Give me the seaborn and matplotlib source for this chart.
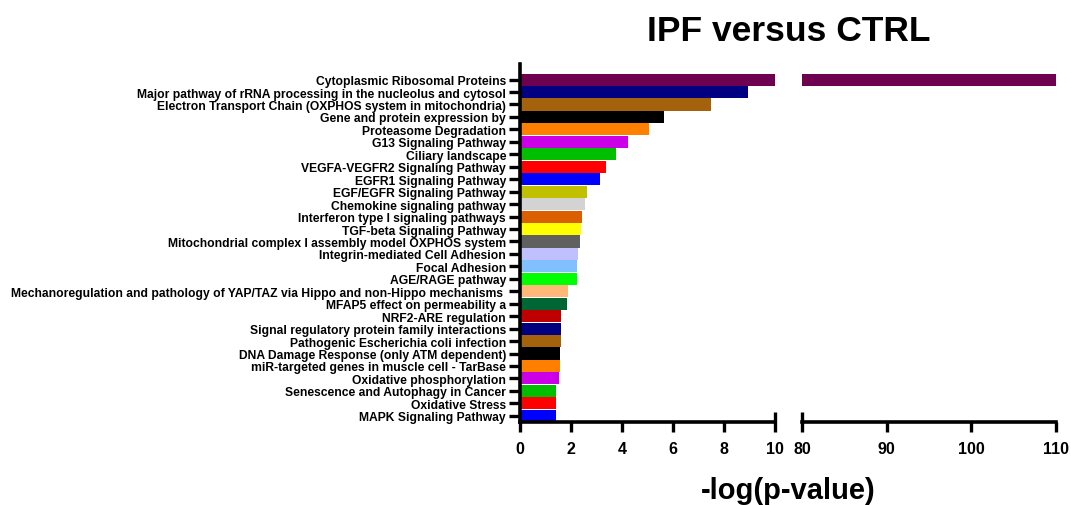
import numpy as np
import pandas as pd
from matplotlib import pyplot as plt
import seaborn as sns

pathways = [
    'Cytoplasmic Ribosomal Proteins',
    'Major pathway of rRNA processing in the nucleolus and cytosol',
    'Electron Transport Chain (OXPHOS system in mitochondria)',
    'Gene and protein expression by',
    'Proteasome Degradation',
    'G13 Signaling Pathway',
    'Ciliary landscape',
    'VEGFA-VEGFR2 Signaling Pathway',
    'EGFR1 Signaling Pathway',
    'EGF/EGFR Signaling Pathway',
    'Chemokine signaling pathway',
    'Interferon type I signaling pathways',
    'TGF-beta Signaling Pathway',
    'Mitochondrial complex I assembly model OXPHOS system',
    'Integrin-mediated Cell Adhesion',
    'Focal Adhesion',
    'AGE/RAGE pathway',
    'Mechanoregulation and pathology of YAP/TAZ via Hippo and non-Hippo mechanisms ',
    'MFAP5 effect on permeability a',
    'NRF2-ARE regulation',
    'Signal regulatory protein family interactions',
    'Pathogenic Escherichia coli infection',
    'DNA Damage Response (only ATM dependent)',
    'miR-targeted genes in muscle cell - TarBase',
    'Oxidative phosphorylation',
    'Senescence and Autophagy in Cancer',
    'Oxidative Stress',
    'MAPK Signaling Pathway',
]
neg_log_p = [110, 8.94, 7.49, 5.66, 5.06, 4.22, 3.75, 3.37, 3.12, 2.62, 2.55, 2.42,
             2.38, 2.35, 2.27, 2.25, 2.22, 1.87, 1.83, 1.62, 1.62, 1.62, 1.56, 1.56,
             1.52, 1.43, 1.40, 1.40]
bar_colors = ['#6e0050', '#000080', '#a5620c', '#000000', '#ff8000', '#cc00e6',
              '#00bf00', '#ff0000', '#0000ff', '#c0c000', '#d3d3d3', '#d95f00',
              '#ffff00', '#606060', '#c0c0ff', '#80c0ff', '#00ff00', '#ffb878',
              '#006633', '#bf0000', '#000080', '#a5620c', '#000000', '#ff8000',
              '#cc00e6', '#00bf00', '#ff0000', '#0000ff']

df = pd.DataFrame({'pathway': pathways, 'value': neg_log_p})

sns.set_style('white')
plt.rcParams['font.family'] = ['Liberation Sans', 'DejaVu Sans']
plt.rcParams['font.weight'] = 'bold'
plt.rcParams['text.color'] = 'black'
plt.rcParams['xtick.color'] = 'black'
plt.rcParams['ytick.color'] = 'black'
plt.rcParams['axes.edgecolor'] = 'black'

fig = plt.figure(figsize=(10.71, 5.06), dpi=100)
ax1 = fig.add_axes([0.4855, 0.164, 0.2382, 0.7075])
ax2 = fig.add_axes([0.7488, 0.164, 0.2372, 0.7075])

# same bars drawn twice, axis broken between 10 and 80
for ax in (ax1, ax2):
    sns.barplot(data=df, x='value', y='pathway', hue='pathway', palette=bar_colors,
                legend=False, dodge=False, width=0.97, saturation=1, linewidth=0,
                orient='h', ax=ax)
    ax.set_ylim(27.5, -1.25)
    ax.set_xlabel('')
    ax.set_ylabel('')
    for s in ('top', 'right'):
        ax.spines[s].set_visible(False)
    ax.spines['bottom'].set_linewidth(2.6)
    ax.spines['left'].set_linewidth(2.6)

ax1.set_xlim(0, 10)
ax1.set_xticks([0, 2, 4, 6, 8])
ax1.set_xticks([10], labels=['10'], minor=True)
ax1.tick_params(axis='y', which='major', left=True, direction='out', length=8,
                width=2.4, labelsize=8.75, pad=2, labelcolor='black')
ax1.tick_params(axis='x', which='major', bottom=True, direction='out', length=7.5,
                width=2.4, labelsize=11.5, pad=6)
ax1.tick_params(axis='x', which='minor', bottom=True, direction='inout', length=14,
                width=2.4, labelsize=11.5, pad=7)

ax2.set_xlim(80, 110)
ax2.set_xticks([90, 100, 110])
ax2.set_xticks([80], labels=['80'], minor=True)
ax2.spines['left'].set_visible(False)
ax2.set_yticks([])
ax2.tick_params(axis='x', which='major', bottom=True, direction='out', length=7.5,
                width=2.4, labelsize=11.5, pad=6)
ax2.tick_params(axis='x', which='minor', bottom=True, direction='inout', length=14,
                width=2.4, labelsize=11.5, pad=7)

for ax in (ax1, ax2):
    for lab in ax.get_xticklabels(which='both') + ax.get_yticklabels():
        lab.set_fontweight('bold')

fig.text(0.736, 0.937, 'IPF versus CTRL', ha='center', va='center',
         fontsize=25.5, fontweight='bold')
fig.text(0.736, 0.03, '-log(p-value)', ha='center', va='center',
         fontsize=21, fontweight='bold')

fig.savefig('out.png', dpi=100)
